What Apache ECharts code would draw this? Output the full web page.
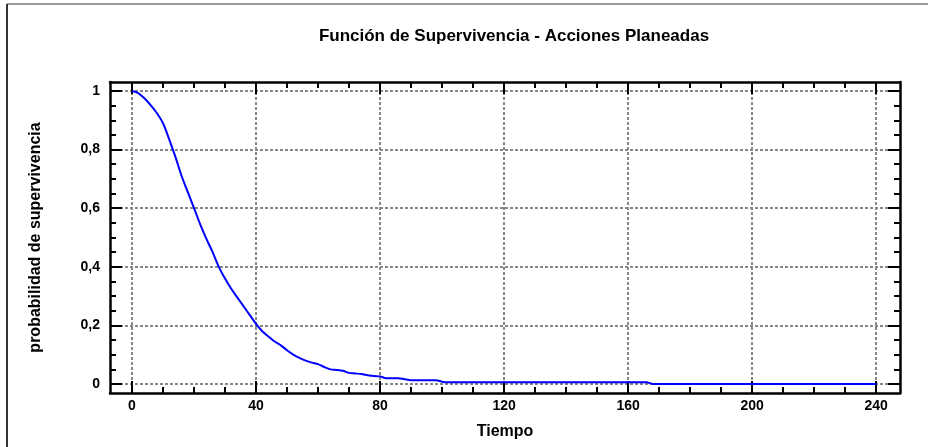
<!DOCTYPE html>
<html>
<head>
<meta charset="utf-8">
<script src="https://cdn.jsdelivr.net/npm/echarts@6/dist/echarts.min.js"></script>
<style>
html,body{margin:0;padding:0;background:#fff;}
#c{width:928px;height:447px;}
</style>
</head>
<body>
<div id="c"></div>
<script>
var titleText = 'Función de Supervivencia - Acciones Planeadas';
var xName = 'Tiempo';
var yName = 'probabilidad de supervivencia';

var tiempo = [0, 2, 4, 6, 8, 10, 12, 14, 16, 18, 20, 22, 24, 26, 28, 30, 32, 34, 36, 38, 40,
  42, 44, 46, 48, 50, 52, 54, 56, 58, 60, 62, 64, 66, 68, 70, 72, 74, 76, 78, 80,
  82, 86, 88, 90, 98, 101, 166, 168, 240];
var supervivencia = [1.0, 0.993, 0.975, 0.952, 0.925, 0.89, 0.835, 0.775, 0.71, 0.655, 0.60,
  0.545, 0.495, 0.45, 0.40, 0.36, 0.325, 0.295, 0.265, 0.235, 0.205,
  0.18, 0.162, 0.145, 0.132, 0.115, 0.10, 0.089, 0.08, 0.073, 0.068,
  0.058, 0.05, 0.048, 0.045, 0.038, 0.036, 0.034, 0.03, 0.027, 0.026,
  0.02, 0.02, 0.016, 0.013, 0.013, 0.006, 0.006, 0.0, 0.0];

var xMajor = [0, 40, 80, 120, 160, 200, 240];
var xMinor = [10, 20, 30, 50, 60, 70, 90, 100, 110, 130, 140, 150, 170, 180, 190, 210, 220, 230];
var yMajor = [0, 0.2, 0.4, 0.6, 0.8, 1];
var yMinor = [0.05, 0.1, 0.15, 0.25, 0.3, 0.35, 0.45, 0.5, 0.55, 0.65, 0.7, 0.75, 0.85, 0.9, 0.95];

var X_MIN = -7.1, X_MAX = 247.7, Y_MIN = -0.0307, Y_MAX = 1.0307;
var FONT = 'Liberation Sans, Arial, sans-serif';

function fmt(v){ return String(v).replace('.', ','); }

function xAx(pos, major, withLabel, withLine){
  return {
    type: 'value', position: pos, min: X_MIN, max: X_MAX,
    name: withLabel ? xName : '', nameLocation: 'middle', nameGap: 31,
    nameTextStyle: {fontFamily: FONT, fontWeight: 'bold', fontSize: 16, color: '#000'},
    axisLine: {show: withLine, onZero: false, lineStyle: {color: '#000', width: 2.5}},
    axisTick: {show: true, inside: true, customValues: major ? xMajor : xMinor,
      length: major ? 12 : 6, lineStyle: {color: '#000', width: 2}},
    axisLabel: {show: withLabel, customValues: xMajor, margin: 6,
      fontFamily: FONT, fontWeight: 'bold', fontSize: 14, color: '#000',
      formatter: fmt},
    splitLine: {show: (major && withLabel), lineStyle: {color: '#888', width: 2, type: [3, 2]}},
    minorTick: {show: false}
  };
}
function yAx(pos, major, withLabel, withLine){
  return {
    type: 'value', position: pos, min: Y_MIN, max: Y_MAX,
    name: withLabel ? yName : '', nameLocation: 'middle', nameGap: 66, nameRotate: 90,
    nameTextStyle: {fontFamily: FONT, fontWeight: 'bold', fontSize: 16, color: '#000'},
    axisLine: {show: withLine, onZero: false, lineStyle: {color: '#000', width: 2.5}},
    axisTick: {show: true, inside: true, customValues: major ? yMajor : yMinor,
      length: major ? 12 : 6, lineStyle: {color: '#000', width: 2}},
    axisLabel: {show: withLabel, customValues: yMajor, margin: 10,
      fontFamily: FONT, fontWeight: 'bold', fontSize: 14, color: '#000',
      formatter: fmt},
    splitLine: {show: (major && withLabel), lineStyle: {color: '#888', width: 2, type: [3, 2]}},
    minorTick: {show: false}
  };
}

var chart = echarts.init(document.getElementById('c'), null, {renderer: 'canvas'});
var data = tiempo.map(function(t, i){ return [t, supervivencia[i]]; });

chart.setOption({
  animation: false,
  backgroundColor: '#fff',
  title: {
    text: titleText, left: 509, top: 23, textAlign: 'center',
    textStyle: {fontFamily: FONT, fontWeight: 'bold', fontSize: 17, color: '#000'}
  },
  grid: {left: 110, top: 82, right: 28, bottom: 54, containLabel: false},
  xAxis: [
    xAx('bottom', true, true, true),
    xAx('bottom', false, false, false),
    xAx('top', true, false, true),
    xAx('top', false, false, false)
  ],
  yAxis: [
    yAx('left', true, true, true),
    yAx('left', false, false, false),
    yAx('right', true, false, true),
    yAx('right', false, false, false)
  ],
  graphic: [
    {type: 'line', shape: {x1: 7, y1: 4, x2: 928, y2: 4}, style: {stroke: '#999', lineWidth: 2}},
    {type: 'line', shape: {x1: 7, y1: 4, x2: 7, y2: 447}, style: {stroke: '#333', lineWidth: 2}}
  ],
  series: [{
    type: 'line', xAxisIndex: 0, yAxisIndex: 0, data: data,
    showSymbol: false, smooth: 0.3,
    lineStyle: {color: '#0000ff', width: 2}
  }]
});
</script>
</body>
</html>
